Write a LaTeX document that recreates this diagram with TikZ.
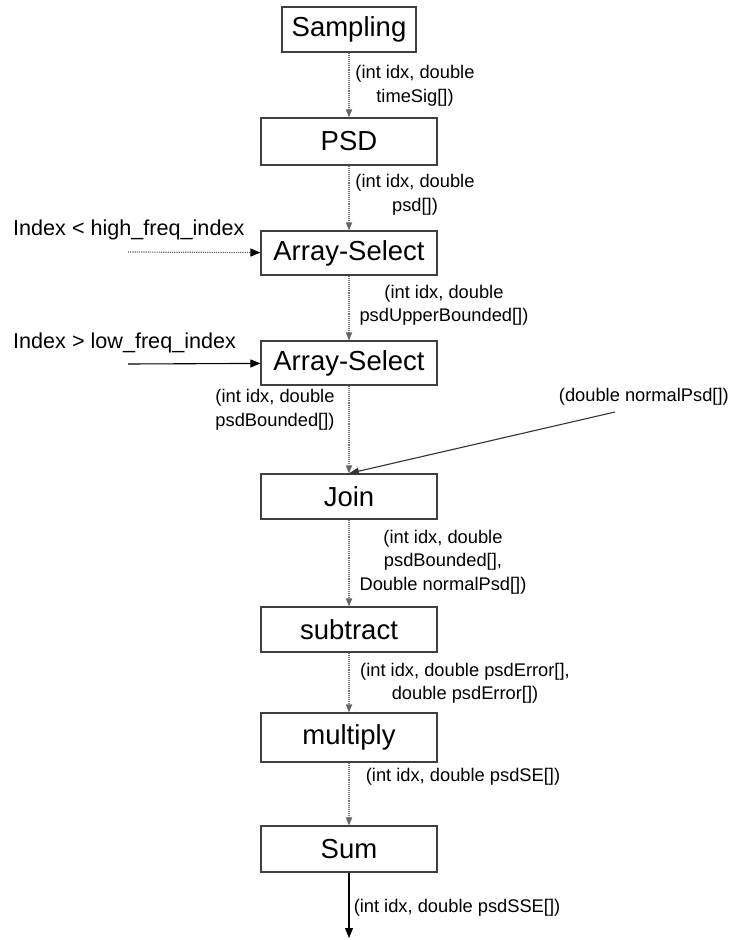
\documentclass[tikz,border=0pt]{standalone}
\usepackage{fontspec}
\setmainfont{Liberation Sans}
\usetikzlibrary{arrows.meta}
\begin{document}
\begin{tikzpicture}[x=1pt,y=-1pt,
  box/.style={draw=black!75,line width=1.2pt,minimum width=176pt,minimum height=45pt,inner sep=0pt,font=\fontsize{27.5}{30}\selectfont},
  lbl/.style={inner sep=0pt,align=center,font=\fontsize{18.3}{23.5}\selectfont},
  side/.style={inner sep=0pt,anchor=west,font=\fontsize{21.6}{25}\selectfont},
  flow/.style={draw=black!55,line width=1.1pt,densely dotted,-{Triangle[length=8pt,width=6.5pt,fill=black!60,color=black!60,line width=0pt]}},
  solidarr/.style={draw=black,line width=1.1pt,-{Triangle[length=10pt,width=8pt]}}
]
\useasboundingbox (0,0) rectangle (731,940);
\node[box,minimum width=134pt] (samp) at (349,29.5) {Sampling};
\node[box,minimum height=47pt] (psd) at (349,141.5) {PSD};
\node[box,minimum height=44pt] (as1) at (349,253) {Array-Select};
\node[box,minimum height=44pt] (as2) at (349,363) {Array-Select};
\node[box] (join) at (349,496.5) {Join};
\node[box] (sub) at (349,629.5) {subtract};
\node[box,minimum height=49pt] (mult) at (349,737.5) {multiply};
\node[box,minimum height=46pt] (sum) at (349,849) {Sum};

\coordinate (in1) at (128,252);
\coordinate (in2) at (128,364);
\coordinate (inN) at (615,412);
\coordinate (out) at (349,938);

\draw[flow] (samp) -- (psd);
\draw[flow] (psd) -- (as1);
\draw[flow] (as1) -- (as2);
\draw[flow] (as2) -- (join);
\draw[flow] (join) -- (sub);
\draw[flow] (sub) -- (mult);
\draw[flow] (mult) -- (sum);
\draw[solidarr] (sum) -- (out);
\draw[draw=black!60,line width=1.2pt,densely dotted,-{Triangle[length=10pt,width=8pt,color=black]}] (in1) -- (as1);
\draw[solidarr] (in2) -- (as2);
\draw[draw=black!80,line width=1.1pt,-{Triangle[length=10pt,width=7pt]}] (inN) -- (join.north);

\node[lbl] (l1) at (415,86) {(int idx, double\\timeSig[])};
\node[lbl] (l2) at (415,195) {(int idx, double\\psd[])};
\node[lbl] (l3) at (444,305.5) {(int idx, double\\psdUpperBounded[])};
\node[lbl] (l4) at (275,410) {(int idx, double\\psdBounded[])};
\node[lbl] (l5) at (443,562) {(int idx, double\\psdBounded[],\\Double normalPsd[])};
\node[lbl] (l6) at (465,683.5) {(int idx, double psdError[],\\double psdError[])};
\node[lbl] (l7) at (463,777) {(int idx, double psdSE[])};
\node[lbl] (l8) at (457,908) {(int idx, double psdSSE[])};
\node[lbl,anchor=east] (lN) at (729,397) {(double normalPsd[])};
\node[side] (s1) at (13,230) {Index < high\_freq\_index};
\node[side] (s2) at (13,343) {Index > low\_freq\_index};
\end{tikzpicture}
\end{document}
